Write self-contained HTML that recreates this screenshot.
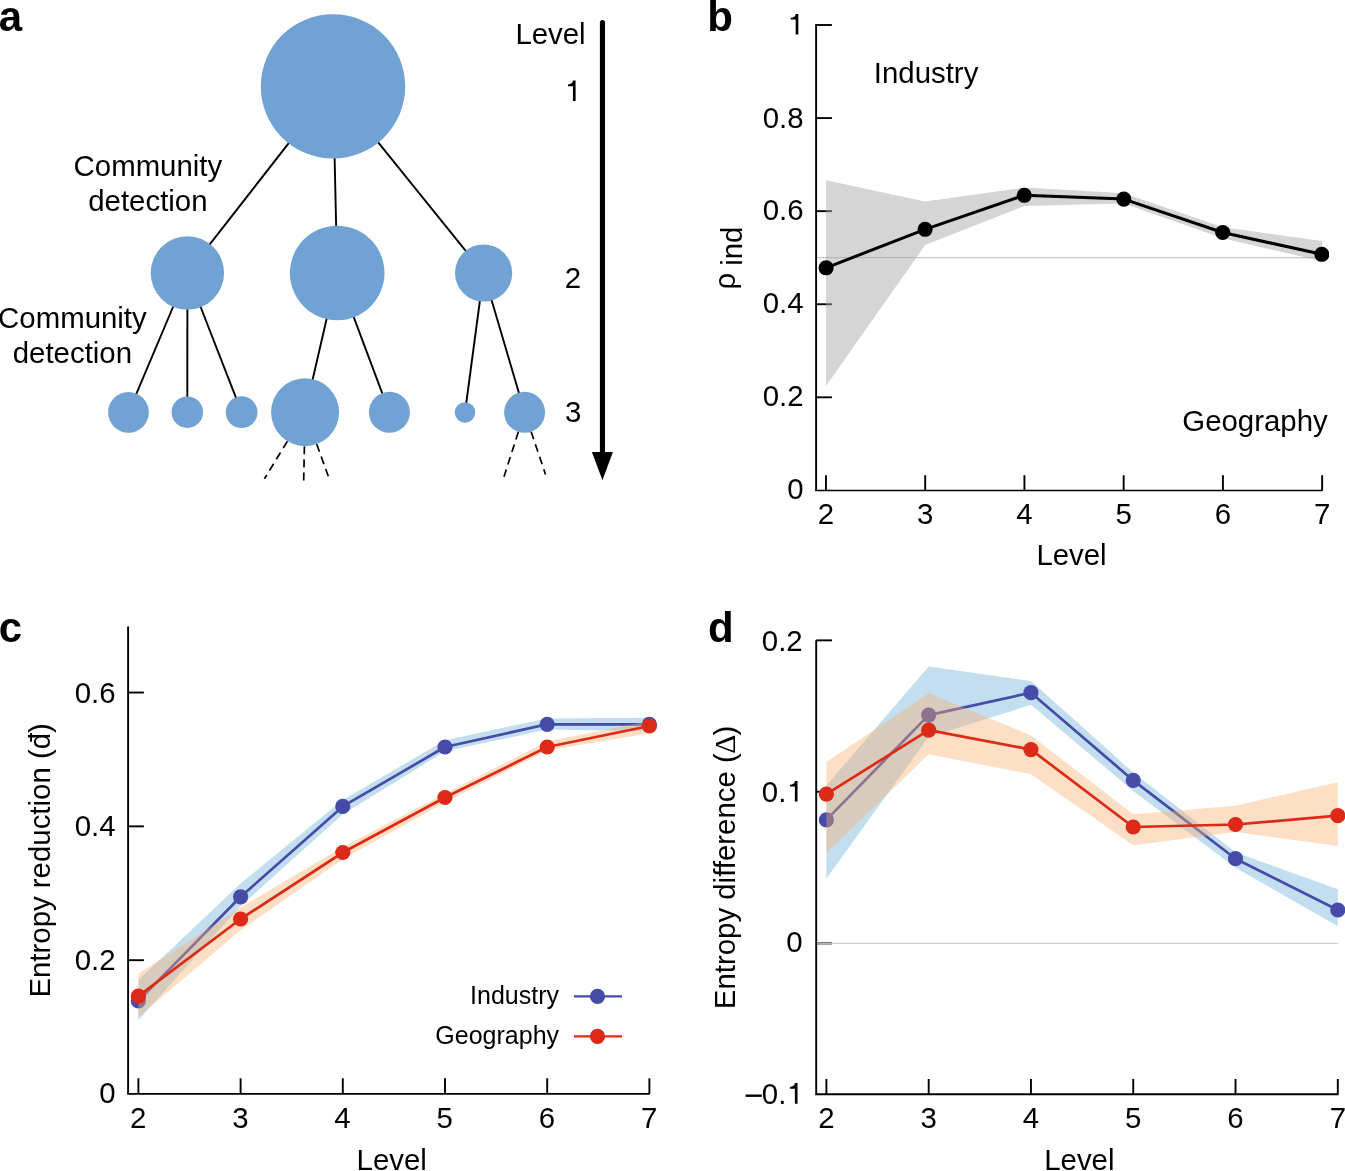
<!DOCTYPE html>
<html><head><meta charset="utf-8"><title>figure</title>
<style>
html,body{margin:0;padding:0;background:#fff;}
body{width:1345px;height:1171px;overflow:hidden;}
svg{display:block;will-change:transform;font-family:"Liberation Sans", sans-serif;}
</style></head><body>
<svg width="1345" height="1171" viewBox="0 0 1345 1171">
<rect width="1345" height="1171" fill="#fff"/>
<text x="-1.2" y="30.7" font-size="42" text-anchor="start" font-weight="bold" fill="#000">a</text>
<line x1="333" y1="86.4" x2="187.4" y2="273" stroke="#000" stroke-width="1.9" />
<line x1="333" y1="86.4" x2="337.2" y2="273" stroke="#000" stroke-width="1.9" />
<line x1="333" y1="86.4" x2="483.6" y2="273" stroke="#000" stroke-width="1.9" />
<line x1="187.4" y1="273" x2="128.5" y2="412.3" stroke="#000" stroke-width="1.9" />
<line x1="187.4" y1="273" x2="187.3" y2="412.2" stroke="#000" stroke-width="1.9" />
<line x1="187.4" y1="273" x2="241.6" y2="412.2" stroke="#000" stroke-width="1.9" />
<line x1="337.2" y1="273" x2="305.1" y2="412.2" stroke="#000" stroke-width="1.9" />
<line x1="337.2" y1="273" x2="389.4" y2="412.3" stroke="#000" stroke-width="1.9" />
<line x1="483.6" y1="273" x2="465" y2="412.5" stroke="#000" stroke-width="1.9" />
<line x1="483.6" y1="273" x2="524.6" y2="412.3" stroke="#000" stroke-width="1.9" />
<line x1="287.39" y1="441.22" x2="264.4" y2="478.9" stroke="#000" stroke-width="1.7" stroke-dasharray="8 5.2"/>
<line x1="304.4" y1="446.19" x2="303.7" y2="480.5" stroke="#000" stroke-width="1.7" stroke-dasharray="8 5.2"/>
<line x1="316.69" y1="444.16" x2="328.3" y2="476.2" stroke="#000" stroke-width="1.7" stroke-dasharray="8 5.2"/>
<line x1="518.35" y1="431.83" x2="504.0" y2="476.7" stroke="#000" stroke-width="1.7" stroke-dasharray="8 5.2"/>
<line x1="531.14" y1="431.73" x2="545.5" y2="474.4" stroke="#000" stroke-width="1.7" stroke-dasharray="8 5.2"/>
<circle cx="333" cy="86.4" r="72.2" fill="#70a3d4" />
<circle cx="187.4" cy="273" r="36.7" fill="#70a3d4" />
<circle cx="337.2" cy="273" r="47.3" fill="#70a3d4" />
<circle cx="483.6" cy="273" r="28.6" fill="#70a3d4" />
<circle cx="128.5" cy="412.3" r="20.4" fill="#70a3d4" />
<circle cx="187.3" cy="412.2" r="15.8" fill="#70a3d4" />
<circle cx="241.6" cy="412.2" r="15.9" fill="#70a3d4" />
<circle cx="305.1" cy="412.2" r="34" fill="#70a3d4" />
<circle cx="389.4" cy="412.3" r="20.5" fill="#70a3d4" />
<circle cx="465" cy="412.5" r="10.3" fill="#70a3d4" />
<circle cx="524.6" cy="412.3" r="20.5" fill="#70a3d4" />
<text x="147.9" y="176.4" font-size="29.4" text-anchor="middle" font-weight="normal" fill="#000">Community</text>
<text x="147.9" y="211.2" font-size="29.4" text-anchor="middle" font-weight="normal" fill="#000">detection</text>
<text x="72.4" y="328.1" font-size="29.4" text-anchor="middle" font-weight="normal" fill="#000">Community</text>
<text x="72.4" y="362.9" font-size="29.4" text-anchor="middle" font-weight="normal" fill="#000">detection</text>
<line x1="602.45" y1="22.6" x2="602.45" y2="456" stroke="#000" stroke-width="5.1" stroke-linecap="round"/>
<polygon points="591.90,452.10 612.90,452.10 602.45,480.20" fill="#000" />
<text x="515.4" y="44" font-size="29.4" text-anchor="start" font-weight="normal" fill="#000">Level</text>
<path transform="translate(575.6,101.1)" d="M0,-20.6 L0,0 L-2.65,0 L-2.65,-14.9 L-7.6,-14.9 L-7.6,-16.7 C-4.5,-16.9 -3.0,-18.0 -2.6,-20.6 Z" fill="#000"/>
<text x="564.73" y="287.8" font-size="29.4" text-anchor="start" font-weight="normal" fill="#000">2</text>
<text x="564.93" y="422.4" font-size="29.4" text-anchor="start" font-weight="normal" fill="#000">3</text>
<text x="707.2" y="30.6" font-size="42" text-anchor="start" font-weight="bold" fill="#000">b</text>
<path d="M816.1,24.1 V490.4" fill="none" stroke="#000" stroke-width="1.9"/>
<line x1="815.15" y1="490.4" x2="1322.6" y2="490.4" stroke="#000" stroke-width="1.5" />
<line x1="816.1" y1="25.0" x2="831.9" y2="25.0" stroke="#000" stroke-width="1.9" />
<line x1="816.1" y1="118.08" x2="831.9" y2="118.08" stroke="#000" stroke-width="1.9" />
<line x1="816.1" y1="211.16" x2="831.9" y2="211.16" stroke="#000" stroke-width="1.9" />
<line x1="816.1" y1="304.24" x2="831.9" y2="304.24" stroke="#000" stroke-width="1.9" />
<line x1="816.1" y1="397.32" x2="831.9" y2="397.32" stroke="#000" stroke-width="1.9" />
<line x1="825.95" y1="490.4" x2="825.95" y2="475.2" stroke="#000" stroke-width="1.9" />
<line x1="925.19" y1="490.4" x2="925.19" y2="475.2" stroke="#000" stroke-width="1.9" />
<line x1="1024.43" y1="490.4" x2="1024.43" y2="475.2" stroke="#000" stroke-width="1.9" />
<line x1="1123.67" y1="490.4" x2="1123.67" y2="475.2" stroke="#000" stroke-width="1.9" />
<line x1="1222.91" y1="490.4" x2="1222.91" y2="475.2" stroke="#000" stroke-width="1.9" />
<line x1="1322.15" y1="490.4" x2="1322.15" y2="475.2" stroke="#000" stroke-width="1.9" />
<line x1="817.1" y1="257.6" x2="1329" y2="257.6" stroke="#c8c8c8" stroke-width="1.2" />
<polygon points="825.95,180.20 925.19,201.60 1024.43,187.60 1123.67,193.20 1222.91,227.20 1322.15,241.10 1322.15,261.30 1222.91,238.20 1123.67,203.50 1024.43,206.00 925.19,245.10 825.95,386.00" fill="rgb(168,168,168)" fill-opacity="0.48"/>
<clipPath id="cb"><rect x="816" y="0" width="513" height="495"/></clipPath>
<g clip-path="url(#cb)">
<polyline points="826.10,267.80 925.10,229.30 1024.30,195.30 1123.80,199.10 1222.70,232.50 1321.80,254.30" fill="none" stroke="#000" stroke-width="3" stroke-linejoin="round" />
<circle cx="826.1" cy="267.8" r="7.55" fill="#000" />
<circle cx="925.1" cy="229.3" r="7.55" fill="#000" />
<circle cx="1024.3" cy="195.3" r="7.55" fill="#000" />
<circle cx="1123.8" cy="199.1" r="7.55" fill="#000" />
<circle cx="1222.7" cy="232.5" r="7.55" fill="#000" />
<circle cx="1321.8" cy="254.3" r="7.55" fill="#000" />
</g>
<path transform="translate(798.33,34.5)" d="M0,-20.6 L0,0 L-2.65,0 L-2.65,-14.9 L-7.6,-14.9 L-7.6,-16.7 C-4.5,-16.9 -3.0,-18.0 -2.6,-20.6 Z" fill="#000"/>
<text x="762.63" y="127.55" font-size="29.4" text-anchor="start" font-weight="normal" fill="#000">0</text>
<text x="778.98" y="127.55" font-size="29.4" text-anchor="start" font-weight="normal" fill="#000">.</text>
<text x="787.15" y="127.55" font-size="29.4" text-anchor="start" font-weight="normal" fill="#000">8</text>
<text x="762.63" y="220.45" font-size="29.4" text-anchor="start" font-weight="normal" fill="#000">0</text>
<text x="778.98" y="220.45" font-size="29.4" text-anchor="start" font-weight="normal" fill="#000">.</text>
<text x="787.15" y="220.45" font-size="29.4" text-anchor="start" font-weight="normal" fill="#000">6</text>
<text x="762.63" y="313.2" font-size="29.4" text-anchor="start" font-weight="normal" fill="#000">0</text>
<text x="778.98" y="313.2" font-size="29.4" text-anchor="start" font-weight="normal" fill="#000">.</text>
<text x="787.15" y="313.2" font-size="29.4" text-anchor="start" font-weight="normal" fill="#000">4</text>
<text x="762.63" y="406.2" font-size="29.4" text-anchor="start" font-weight="normal" fill="#000">0</text>
<text x="778.98" y="406.2" font-size="29.4" text-anchor="start" font-weight="normal" fill="#000">.</text>
<text x="787.15" y="406.2" font-size="29.4" text-anchor="start" font-weight="normal" fill="#000">2</text>
<text x="787.15" y="499.2" font-size="29.4" text-anchor="start" font-weight="normal" fill="#000">0</text>
<text x="817.78" y="523.9" font-size="29.4" text-anchor="start" font-weight="normal" fill="#000">2</text>
<text x="917.02" y="523.9" font-size="29.4" text-anchor="start" font-weight="normal" fill="#000">3</text>
<text x="1016.26" y="523.9" font-size="29.4" text-anchor="start" font-weight="normal" fill="#000">4</text>
<text x="1115.5" y="523.9" font-size="29.4" text-anchor="start" font-weight="normal" fill="#000">5</text>
<text x="1214.74" y="523.9" font-size="29.4" text-anchor="start" font-weight="normal" fill="#000">6</text>
<text x="1313.98" y="523.9" font-size="29.4" text-anchor="start" font-weight="normal" fill="#000">7</text>
<text x="1036.4" y="564.9" font-size="29.4" text-anchor="start" font-weight="normal" fill="#000">Level</text>
<text x="873.8" y="83.3" font-size="29.4" text-anchor="start" font-weight="normal" fill="#000">Industry</text>
<text x="1182.3" y="431.2" font-size="29.4" text-anchor="start" font-weight="normal" fill="#000">Geography</text>
<g transform="translate(735,289.5) rotate(-90)"><text x="0" y="0" font-size="29.4">ρ</text></g>
<g transform="translate(742.1,265.8) rotate(-90)"><text x="0" y="0" font-size="29.4">ind</text></g>
<text x="-1.2" y="642.1" font-size="42" text-anchor="start" font-weight="bold" fill="#000">c</text>
<polygon points="138.40,980.00 240.60,883.50 342.80,800.10 445.00,740.20 547.20,718.40 649.40,717.80 649.40,731.20 547.20,729.60 445.00,751.30 342.80,814.20 240.60,906.00 138.40,1020.10" fill="#c3deef" />
<polyline points="138.40,1000.90 240.60,896.80 342.80,806.40 445.00,747.00 547.20,724.30 649.40,724.30" fill="none" stroke="#464ba8" stroke-width="2.7" stroke-linejoin="round" />
<circle cx="138.4" cy="1000.9" r="7.6" fill="#464ba8" />
<circle cx="240.6" cy="896.8" r="7.6" fill="#464ba8" />
<circle cx="342.8" cy="806.4" r="7.6" fill="#464ba8" />
<circle cx="445.0" cy="747.0" r="7.6" fill="#464ba8" />
<circle cx="547.2" cy="724.3" r="7.6" fill="#464ba8" />
<circle cx="649.4" cy="724.3" r="7.6" fill="#464ba8" />
<polygon points="138.40,973.80 240.60,907.50 342.80,847.00 445.00,793.40 547.20,741.50 649.40,721.00 649.40,733.30 547.20,750.50 445.00,802.40 342.80,859.00 240.60,930.30 138.40,1017.00" fill="rgba(250,175,110,0.4)" />
<polyline points="138.40,996.20 240.60,919.00 342.80,852.50 445.00,797.50 547.20,747.00 649.40,726.00" fill="none" stroke="#dd2a18" stroke-width="2.7" stroke-linejoin="round" />
<circle cx="138.4" cy="996.2" r="7.6" fill="#dd2a18" />
<circle cx="240.6" cy="919.0" r="7.6" fill="#dd2a18" />
<circle cx="342.8" cy="852.5" r="7.6" fill="#dd2a18" />
<circle cx="445.0" cy="797.5" r="7.6" fill="#dd2a18" />
<circle cx="547.2" cy="747.0" r="7.6" fill="#dd2a18" />
<circle cx="649.4" cy="726.0" r="7.6" fill="#dd2a18" />
<path d="M128.1,626.5 V1093.9 H649.6" fill="none" stroke="#000" stroke-width="1.9"/>
<line x1="128.1" y1="692.54" x2="143.9" y2="692.54" stroke="#000" stroke-width="1.9" />
<text x="74.63" y="703.1" font-size="29.4" text-anchor="start" font-weight="normal" fill="#000">0</text>
<text x="90.98" y="703.1" font-size="29.4" text-anchor="start" font-weight="normal" fill="#000">.</text>
<text x="99.15" y="703.1" font-size="29.4" text-anchor="start" font-weight="normal" fill="#000">6</text>
<line x1="128.1" y1="826.36" x2="143.9" y2="826.36" stroke="#000" stroke-width="1.9" />
<text x="74.63" y="836.3" font-size="29.4" text-anchor="start" font-weight="normal" fill="#000">0</text>
<text x="90.98" y="836.3" font-size="29.4" text-anchor="start" font-weight="normal" fill="#000">.</text>
<text x="99.15" y="836.3" font-size="29.4" text-anchor="start" font-weight="normal" fill="#000">4</text>
<line x1="128.1" y1="960.18" x2="143.9" y2="960.18" stroke="#000" stroke-width="1.9" />
<text x="74.63" y="969.7" font-size="29.4" text-anchor="start" font-weight="normal" fill="#000">0</text>
<text x="90.98" y="969.7" font-size="29.4" text-anchor="start" font-weight="normal" fill="#000">.</text>
<text x="99.15" y="969.7" font-size="29.4" text-anchor="start" font-weight="normal" fill="#000">2</text>
<text x="99.15" y="1103.2" font-size="29.4" text-anchor="start" font-weight="normal" fill="#000">0</text>
<line x1="138.4" y1="1093.9" x2="138.4" y2="1078.3" stroke="#000" stroke-width="1.9" />
<text x="129.93" y="1128.2" font-size="29.4" text-anchor="start" font-weight="normal" fill="#000">2</text>
<line x1="240.6" y1="1093.9" x2="240.6" y2="1078.3" stroke="#000" stroke-width="1.9" />
<text x="232.13" y="1128.2" font-size="29.4" text-anchor="start" font-weight="normal" fill="#000">3</text>
<line x1="342.8" y1="1093.9" x2="342.8" y2="1078.3" stroke="#000" stroke-width="1.9" />
<text x="334.33" y="1128.2" font-size="29.4" text-anchor="start" font-weight="normal" fill="#000">4</text>
<line x1="445.0" y1="1093.9" x2="445.0" y2="1078.3" stroke="#000" stroke-width="1.9" />
<text x="436.53" y="1128.2" font-size="29.4" text-anchor="start" font-weight="normal" fill="#000">5</text>
<line x1="547.2" y1="1093.9" x2="547.2" y2="1078.3" stroke="#000" stroke-width="1.9" />
<text x="538.73" y="1128.2" font-size="29.4" text-anchor="start" font-weight="normal" fill="#000">6</text>
<line x1="649.4" y1="1093.9" x2="649.4" y2="1078.3" stroke="#000" stroke-width="1.9" />
<text x="640.93" y="1128.2" font-size="29.4" text-anchor="start" font-weight="normal" fill="#000">7</text>
<text x="356.6" y="1170" font-size="29.4" text-anchor="start" font-weight="normal" fill="#000">Level</text>
<g transform="translate(49.9,860.4) rotate(-90)"><text x="0" y="0" font-size="29.4" text-anchor="middle">Entropy reduction (đ)</text></g>
<text x="559.05" y="1004.4" font-size="25" text-anchor="end" font-weight="normal" fill="#000">Industry</text>
<text x="559.05" y="1044.0" font-size="25" text-anchor="end" font-weight="normal" fill="#000">Geography</text>
<line x1="573.9" y1="996.4" x2="622" y2="996.4" stroke="#464ba8" stroke-width="2.4" />
<circle cx="597.5" cy="996.4" r="7.6" fill="#464ba8" />
<line x1="573.9" y1="1036.4" x2="622" y2="1036.4" stroke="#dd2a18" stroke-width="2.4" />
<circle cx="597.5" cy="1036.4" r="7.6" fill="#dd2a18" />
<text x="707.9" y="641.9" font-size="42" text-anchor="start" font-weight="bold" fill="#000">d</text>
<path d="M816.2,640.3 V1094.2 H1338.5" fill="none" stroke="#000" stroke-width="1.9"/>
<line x1="816.2" y1="640.36" x2="832.0" y2="640.36" stroke="#000" stroke-width="1.9" />
<line x1="816.2" y1="791.73" x2="832.0" y2="791.73" stroke="#000" stroke-width="1.9" />
<line x1="816.2" y1="943.4" x2="832.0" y2="943.4" stroke="#000" stroke-width="1.9" />
<line x1="817.1" y1="943.4" x2="1338" y2="943.4" stroke="#c9c9c9" stroke-width="1.0" />
<polygon points="826.40,785.40 928.68,666.60 1030.96,681.10 1133.24,772.50 1235.52,852.30 1337.80,889.30 1337.80,926.30 1235.52,867.70 1133.24,791.00 1030.96,704.80 928.68,737.00 826.40,878.60" fill="#c3deef" />
<polyline points="826.40,819.90 928.68,715.10 1030.96,692.70 1133.24,780.40 1235.52,858.70 1337.80,910.00" fill="none" stroke="#464ba8" stroke-width="2.7" stroke-linejoin="round" />
<circle cx="826.4" cy="819.9" r="7.6" fill="#464ba8" />
<circle cx="928.68" cy="715.1" r="7.6" fill="#464ba8" />
<circle cx="1030.96" cy="692.7" r="7.6" fill="#464ba8" />
<circle cx="1133.24" cy="780.4" r="7.6" fill="#464ba8" />
<circle cx="1235.52" cy="858.7" r="7.6" fill="#464ba8" />
<circle cx="1337.8" cy="910.0" r="7.6" fill="#464ba8" />
<polygon points="826.40,762.10 928.68,693.30 1030.96,735.40 1133.24,814.30 1235.52,805.70 1337.80,782.30 1337.80,846.10 1235.52,832.00 1133.24,845.20 1030.96,774.30 928.68,754.30 826.40,853.00" fill="rgba(250,175,110,0.4)" />
<polyline points="826.40,794.20 928.68,730.10 1030.96,749.60 1133.24,827.00 1235.52,824.50 1337.80,815.70" fill="none" stroke="#dd2a18" stroke-width="2.7" stroke-linejoin="round" />
<circle cx="826.4" cy="794.2" r="7.6" fill="#dd2a18" />
<circle cx="928.68" cy="730.1" r="7.6" fill="#dd2a18" />
<circle cx="1030.96" cy="749.6" r="7.6" fill="#dd2a18" />
<circle cx="1133.24" cy="827.0" r="7.6" fill="#dd2a18" />
<circle cx="1235.52" cy="824.5" r="7.6" fill="#dd2a18" />
<circle cx="1337.8" cy="815.7" r="7.6" fill="#dd2a18" />
<text x="761.83" y="650.9" font-size="29.4" text-anchor="start" font-weight="normal" fill="#000">0</text>
<text x="778.18" y="650.9" font-size="29.4" text-anchor="start" font-weight="normal" fill="#000">.</text>
<text x="786.35" y="650.9" font-size="29.4" text-anchor="start" font-weight="normal" fill="#000">2</text>
<text x="761.83" y="801.5" font-size="29.4" text-anchor="start" font-weight="normal" fill="#000">0</text>
<text x="778.18" y="801.5" font-size="29.4" text-anchor="start" font-weight="normal" fill="#000">.</text>
<path transform="translate(797.53,801.5)" d="M0,-20.6 L0,0 L-2.65,0 L-2.65,-14.9 L-7.6,-14.9 L-7.6,-16.7 C-4.5,-16.9 -3.0,-18.0 -2.6,-20.6 Z" fill="#000"/>
<text x="786.35" y="952.2" font-size="29.4" text-anchor="start" font-weight="normal" fill="#000">0</text>
<rect x="745.54" y="1094.5" width="16.25" height="2.4" fill="#000"/>
<text x="761.83" y="1103.7" font-size="29.4" text-anchor="start" font-weight="normal" fill="#000">0</text>
<text x="778.18" y="1103.7" font-size="29.4" text-anchor="start" font-weight="normal" fill="#000">.</text>
<path transform="translate(797.53,1103.7)" d="M0,-20.6 L0,0 L-2.65,0 L-2.65,-14.9 L-7.6,-14.9 L-7.6,-16.7 C-4.5,-16.9 -3.0,-18.0 -2.6,-20.6 Z" fill="#000"/>
<line x1="826.4" y1="1094.2" x2="826.4" y2="1079.0" stroke="#000" stroke-width="1.9" />
<text x="818.23" y="1127.9" font-size="29.4" text-anchor="start" font-weight="normal" fill="#000">2</text>
<line x1="928.68" y1="1094.2" x2="928.68" y2="1079.0" stroke="#000" stroke-width="1.9" />
<text x="920.51" y="1127.9" font-size="29.4" text-anchor="start" font-weight="normal" fill="#000">3</text>
<line x1="1030.96" y1="1094.2" x2="1030.96" y2="1079.0" stroke="#000" stroke-width="1.9" />
<text x="1022.79" y="1127.9" font-size="29.4" text-anchor="start" font-weight="normal" fill="#000">4</text>
<line x1="1133.24" y1="1094.2" x2="1133.24" y2="1079.0" stroke="#000" stroke-width="1.9" />
<text x="1125.07" y="1127.9" font-size="29.4" text-anchor="start" font-weight="normal" fill="#000">5</text>
<line x1="1235.52" y1="1094.2" x2="1235.52" y2="1079.0" stroke="#000" stroke-width="1.9" />
<text x="1227.35" y="1127.9" font-size="29.4" text-anchor="start" font-weight="normal" fill="#000">6</text>
<line x1="1337.8" y1="1094.2" x2="1337.8" y2="1079.0" stroke="#000" stroke-width="1.9" />
<text x="1329.63" y="1127.9" font-size="29.4" text-anchor="start" font-weight="normal" fill="#000">7</text>
<text x="1044.2" y="1170" font-size="29.4" text-anchor="start" font-weight="normal" fill="#000">Level</text>
<g transform="translate(734.6,867.5) rotate(-90)"><text x="0" y="0" font-size="29.4" text-anchor="middle">Entropy difference (<tspan dx="-0.6" font-family="Liberation Serif, serif" font-size="29.6">Δ</tspan><tspan dx="-0.8">)</tspan></text></g>
</svg>
</body></html>
